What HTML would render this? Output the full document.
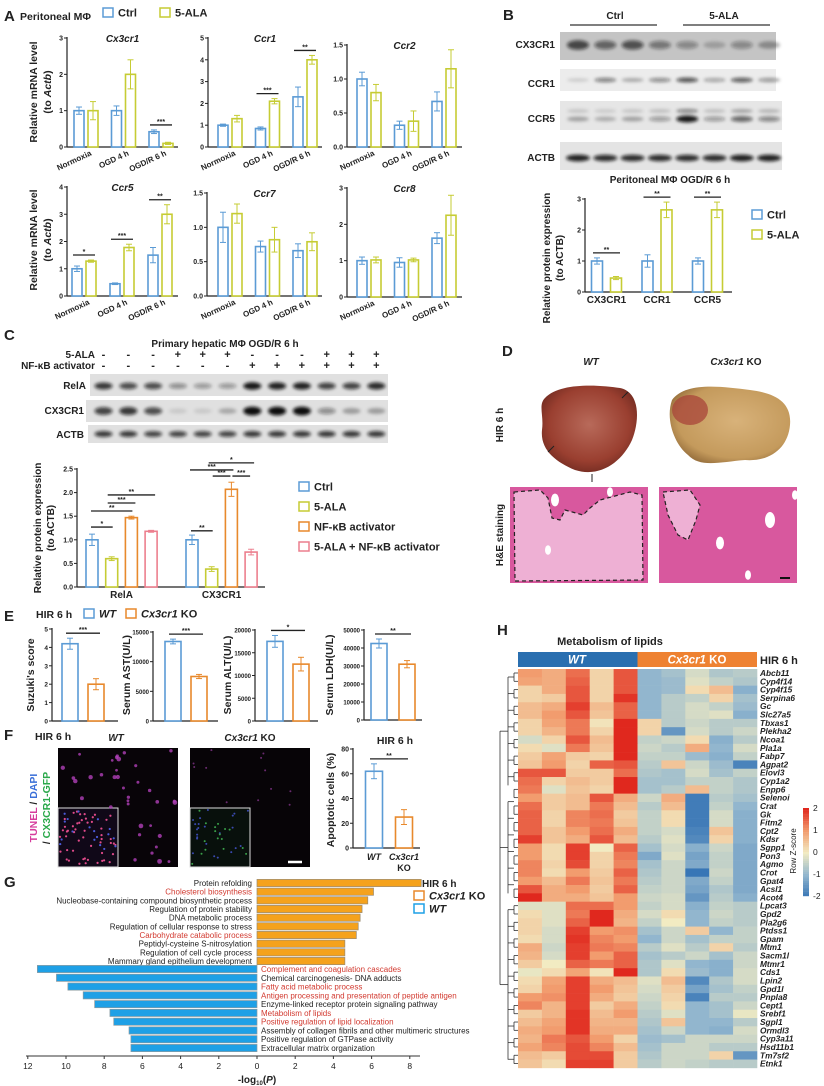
<!DOCTYPE html>
<html><head><meta charset="utf-8"><style>
html,body{margin:0;padding:0;background:#fff;}
svg{display:block;font-family:"Liberation Sans",Arial,sans-serif;}
text{font-weight:bold;fill:#222;}
</style></head><body>
<svg id="fig" width="824" height="1086" viewBox="0 0 824 1086" xmlns="http://www.w3.org/2000/svg">
<defs>
<filter id="blur" x="-50%" y="-100%" width="200%" height="300%"><feGaussianBlur stdDeviation="1.6"/></filter>
<radialGradient id="wtLiver" cx="50%" cy="45%" r="60%"><stop offset="0" stop-color="#b86a5a"/><stop offset="0.7" stop-color="#9a3f30"/><stop offset="1" stop-color="#6e2a20"/></radialGradient>
<radialGradient id="koLiver" cx="55%" cy="45%" r="60%"><stop offset="0" stop-color="#d8b27a"/><stop offset="0.8" stop-color="#c49a5c"/><stop offset="1" stop-color="#9c7440"/></radialGradient>
</defs>
</svg>
<script>
// ---------- DATA ----------
const groupsA = ['Normoxia','OGD 4 h','OGD/R 6 h'];
const cx3cr1Ctrl=[1.0,1.0,0.42], cx3cr1CtrlErr=[0.1,0.13,0.05], cx3cr1Ala=[1.0,2.0,0.1], cx3cr1AlaErr=[0.25,0.4,0.03];
const ccr1Ctrl=[1.0,0.85,2.3], ccr1CtrlErr=[0.05,0.07,0.45], ccr1Ala=[1.3,2.1,4.0], ccr1AlaErr=[0.15,0.12,0.2];
const ccr2Ctrl=[1.0,0.32,0.67], ccr2CtrlErr=[0.1,0.06,0.14], ccr2Ala=[0.8,0.38,1.15], ccr2AlaErr=[0.12,0.15,0.28];
const ccr5Ctrl=[1.0,0.45,1.5], ccr5CtrlErr=[0.1,0.03,0.28], ccr5Ala=[1.28,1.78,3.0], ccr5AlaErr=[0.04,0.12,0.35];
const ccr7Ctrl=[1.0,0.72,0.66], ccr7CtrlErr=[0.22,0.08,0.1], ccr7Ala=[1.2,0.82,0.79], ccr7AlaErr=[0.14,0.18,0.13];
const ccr8Ctrl=[1.0,0.95,1.62], ccr8CtrlErr=[0.1,0.13,0.15], ccr8Ala=[1.02,1.02,2.25], ccr8AlaErr=[0.08,0.05,0.55];
const groupsB=['CX3CR1','CCR1','CCR5'];
const bCtrl=[1,1,1], bCtrlErr=[0.1,0.2,0.1], bAla=[0.45,2.65,2.65], bAlaErr=[0.05,0.25,0.25];
const groupsC=['RelA','CX3CR1'];
const cCtrl=[1.0,1.0], cCtrlErr=[0.12,0.1];
const cAla=[0.6,0.38], cAlaErr=[0.04,0.05];
const cNf=[1.47,2.07], cNfErr=[0.03,0.15];
const cCombo=[1.18,0.74], cComboErr=[0.02,0.06];
const eSuzuki=[4.2,2.0], eSuzukiErr=[0.3,0.3];
const eAST=[13400,7500], eASTErr=[400,350];
const eALT=[17500,12500], eALTErr=[1300,1500];
const eLDH=[42500,31000], eLDHErr=[2500,2000];
const fApop=[62,25], fApopErr=[6,6];
const gKoTerms=['Protein refolding','Cholesterol biosynthesis','Nucleobase-containing compound biosynthetic process','Regulation of protein stability','DNA metabolic process','Regulation of cellular response to stress','Carbohydrate catabolic process','Peptidyl-cysteine S-nitrosylation','Regulation of cell cycle process','Mammary gland epithelium development'];
const gKoVals=[8.6,6.1,5.8,5.5,5.4,5.3,5.2,4.6,4.6,4.6];
const gKoRed=[0,1,0,0,0,0,1,0,0,0];
const gWtTerms=['Complement and coagulation cascades','Chemical carcinogenesis- DNA adducts','Fatty acid metabolic process','Antigen processing and presentation of peptide antigen','Enzyme-linked receptor protein signaling pathway','Metabolism of lipids','Positive regulation of lipid localization','Assembly of collagen fibrils and other multimeric structures','Positive regulation of GTPase activity','Extracellular matrix organization'];
const gWtVals=[11.5,10.5,9.9,9.1,8.5,7.7,7.5,6.7,6.6,6.6];
const gWtRed=[1,0,1,1,0,1,1,0,0,0];
const gTicks=[12,10,8,6,4,2,0,2,4,6,8];
const gTickVals=[-12,-10,-8,-6,-4,-2,0,2,4,6,8];
const hGenes=['Abcb11','Cyp4f14','Cyp4f15','Serpina6','Gc','Slc27a5','Tbxas1','Plekha2','Ncoa1','Pla1a','Fabp7','Agpat2','Elovl3','Cyp1a2','Enpp6','Selenoi','Crat','Gk','Fitm2','Cpt2','Kdsr','Sgpp1','Pon3','Agmo','Crot','Gpat4','Acsl1','Acot4','Lpcat3','Gpd2','Pla2g6','Ptdss1','Gpam','Mtm1','Sacm1l','Mtmr1','Cds1','Lpin2','Gpd1l','Pnpla8','Cept1','Srebf1','Sgpl1','Ormdl3','Cyp3a11','Hsd11b1','Tm7sf2','Etnk1'];
const hZ=[
[1,0.8,1.4,0.3,1.6,-1,-0.8,-0.3,-0.7,-0.6],
[0.9,0.8,1.5,0.3,1.6,-1,-0.9,-0.2,-0.5,-0.7],
[0.3,0.8,1.6,0.3,1.6,-1,-0.9,0.2,0.6,-1.1],
[0.3,0.4,1.6,0.3,1.9,-1,-0.6,-0.5,0.3,-0.8],
[0.6,0.8,1.8,0.6,1.5,-1,-0.6,-0.3,-0.5,-0.9],
[0.6,1.0,1.6,0.5,1.5,-1,-0.6,-0.3,-0.2,-1.1],
[0.3,0.9,1.3,0.1,2.0,0.3,-0.6,-0.4,-0.6,-0.6],
[0.3,0.7,1.3,0.3,2.0,0.3,-1.5,-0.3,-0.6,-0.4],
[-0.3,0.3,1.6,0.6,2.0,-0.5,-0.4,0.2,-1.1,-0.6],
[0.2,-0.2,1.3,0.5,2.0,-0.4,-0.6,0.8,-1,-0.3],
[0.4,0.9,0.4,0.3,2.0,-0.5,-0.5,-0.9,-1.1,-0.5],
[0.5,1.0,0.3,1.5,1.6,-0.6,0.5,-0.4,-0.9,-1.8],
[1.6,1.6,0.4,0.4,1.4,-0.7,-0.8,-0.3,-0.8,-0.5],
[1.4,0.3,0.6,0.4,2.0,-0.8,-0.8,-0.5,-0.5,-0.7],
[1.3,-0.2,0.5,0.3,2.0,-0.8,-0.6,0.6,-0.5,-0.7],
[1.0,0.4,0.6,1.6,0.8,-0.4,0.8,-1.9,-0.6,-0.8],
[1.4,0.4,0.6,1.3,0.6,-0.6,0.6,-1.9,-0.5,-1.0],
[1.5,0.3,1.2,1.4,0.4,-0.5,0.2,-1.9,-0.3,-1.1],
[1.5,0.3,1.2,1.3,0.5,-0.5,0.2,-1.9,-0.3,-1.1],
[1.5,0.5,1.0,1.4,0.8,-0.5,-0.3,-1.8,0.5,-1.1],
[1.8,0.5,0.8,1.6,0.6,-0.6,-0.2,-1.7,0.3,-1.1],
[1.0,0.2,1.8,0,1.5,-0.8,-0.3,-1.1,-0.4,-1.2],
[1.0,0.2,1.8,0.3,1.3,-1.2,-0.2,-1.3,-0.5,-1.2],
[1.2,0.3,1.7,0.3,1.2,-0.8,-0.4,-1.2,-0.5,-1.2],
[1.2,0.2,1.0,0.4,1.5,-0.7,-0.4,-2,-0.4,-1.2],
[1.0,0.6,1.3,0.5,1.3,-0.6,-0.4,-1.2,-0.5,-1.2],
[1.6,0.8,1.0,0.4,1.5,-0.5,-0.4,-1.3,-0.7,-1.2],
[2.0,0.8,0.8,0.5,1.0,-0.4,-0.3,-1.5,-0.6,-1.1],
[-0.2,-0.2,1.4,1.4,1.0,-0.5,-0.3,-1.1,-0.5,-0.6],
[0.2,-0.2,1.3,2.0,0.8,-0.3,0.2,-1.0,-0.4,-0.6],
[0.3,-0.2,1.5,2.0,0.7,-0.5,0,-1.0,-0.5,-0.6],
[0.3,-0.3,1.8,1.0,1.1,-0.8,-0.4,0.4,-1.0,-0.5],
[0.2,-0.3,1.9,1.2,1.0,-1.0,-0.4,-0.8,-0.5,-0.5],
[0.8,-0.4,1.8,1.3,1.2,-0.6,-0.2,-0.6,0.3,-0.6],
[0.7,-0.3,1.8,1.0,1.5,-0.8,-0.6,-0.4,-0.8,-0.4],
[0.4,0,1.5,1.3,1.5,-0.7,-0.2,-1,-1.1,-0.4],
[-0.1,0.2,0.9,0.1,2.0,-0.7,0.2,-0.9,-1.1,-0.3],
[0.2,0.9,1.8,0.8,0.6,-0.2,0.6,-1.7,-0.7,-0.3],
[0.3,1.0,1.8,1.0,0.5,-0.3,0.4,-1.3,-0.8,-0.5],
[1.0,1.1,1.8,0.8,0.4,-0.4,0.3,-1.8,-0.6,-0.6],
[1.2,0.7,1.8,0.4,0.8,-0.5,0.2,-1,-0.8,-0.4],
[0.4,0.7,1.9,0.6,1.0,-0.6,-0.2,-1,-0.8,-0.1],
[0.6,0.9,1.9,0.7,0.7,-0.7,0.5,-1,-1,-0.6],
[0.8,1.0,1.9,0.8,0.8,-0.8,-0.4,-1,-1.1,-0.3],
[0.7,1.3,1.6,1.0,0.3,-0.9,-0.8,-0.4,-0.4,-0.4],
[0.9,1.2,1.7,1.2,0.6,-0.8,-0.4,-0.4,-0.6,-0.6],
[0.6,0.4,1.7,1.7,0.4,-0.7,-0.4,-0.4,0.3,-1.5],
[0.5,0.2,1.8,1.8,0.4,-0.6,-0.4,-0.5,-0.6,-0.6]];
const blotB_CX3CR1=[0.7,0.55,0.65,0.45,0.35,0.2,0.35,0.3];
const blotB_CCR1=[0.15,0.5,0.3,0.45,0.7,0.35,0.65,0.4];
const blotB_CCR5=[0.3,0.25,0.3,0.35,0.95,0.35,0.6,0.45];
const blotB_ACTB=[0.9,0.85,0.85,0.85,0.85,0.85,0.9,0.9];
const blotC_RelA=[0.8,0.7,0.7,0.4,0.35,0.35,0.95,0.9,0.9,0.75,0.75,0.85];
const blotC_CX3CR1=[0.75,0.8,0.7,0.1,0.1,0.25,1,1,1,0.4,0.3,0.3];
const blotC_ACTB=[0.8,0.8,0.75,0.75,0.75,0.75,0.8,0.8,0.8,0.8,0.8,0.8];
const cAlaSigns=['-','-','-','+','+','+','-','-','-','+','+','+'];
const cNfSigns=['-','-','-','-','-','-','+','+','+','+','+','+'];

// ---------- HELPERS ----------
const NS='http://www.w3.org/2000/svg';
const svg=document.getElementById('fig');
const BLUE='#5b9bd5', YEL='#c6cc34', ORG='#e8892c', PINK='#ec7f8e';
function mk(tag,attrs,parent){const e=document.createElementNS(NS,tag);for(const k in attrs)e.setAttribute(k,attrs[k]);(parent||svg).appendChild(e);return e;}
function T(x,y,s,size,name,extra){const t=mk('text',Object.assign({x:x,y:y,'font-size':size},extra||{}));t.textContent=s;


return t;}
function L(x1,y1,x2,y2,color,w,name){const l=mk('line',{x1:x1,y1:y1,x2:x2,y2:y2,stroke:color||'#222','stroke-width':w||1});


return l;}
function R(x,y,w,h,fill,stroke,name,sw){const r=mk('rect',{x:x,y:y,width:w,height:h,fill:fill,stroke:stroke||'none','stroke-width':sw||1});


return r;}
function VT(x,y,s,size,name,extra){return T(x,y,s,size,name,Object.assign({transform:'rotate(-90 '+x+' '+y+')','text-anchor':'middle'},extra||{}));}

function barChart(c){
  const H=c.yBase-c.yTop;
  const y=v=>c.yBase-v/c.vmax*H;
  L(c.x0,c.yTop-1,c.x0,c.yBase,'#222',1.2,c.name+'-y-axis');
  L(c.x0,c.yBase,c.xEnd,c.yBase,'#222',1.2,c.name+'-x-axis');
  c.ticks.forEach((tv,i)=>{L(c.x0-3,y(tv),c.x0,y(tv),'#222',1,c.name+'-tick');
    T(c.x0-4,y(tv)+2.5,c.tickLabels[i],c.tickSize||7,c.name+'-tick-label',{'text-anchor':'end'});});
  const cxs=[];
  c.series.forEach((s,si)=>{s.vals.forEach((v,gi)=>{
    const cx=c.x0+c.off+gi*c.gstep+si*c.sstep; (cxs[gi]=cxs[gi]||[])[si]=cx;
    const b=mk('rect',{x:cx-c.bw/2,y:y(v),width:c.bw,height:c.yBase-y(v),fill:'#fff',stroke:s.color,'stroke-width':1.6});
    
    
    const e=s.errs[gi];
    L(cx,y(v+e),cx,y(Math.max(0,v-e)),s.color,1,c.name+'-error-bar');
    L(cx-3,y(v+e),cx+3,y(v+e),s.color,1,c.name+'-error-cap');
    L(cx-3,y(v-e),cx+3,y(v-e),s.color,1,c.name+'-error-cap');
  });});
  (c.sigs||[]).forEach(sg=>{
    let lv=sg.level;
    if(lv===undefined){lv=0;c.series.forEach(s=>{lv=Math.max(lv,s.vals[sg.g]+s.errs[sg.g]);});}
    const yy=sg.level===undefined?y(lv)-5:y(lv);
    const xa=cxs[sg.g][sg.s1]-(sg.pad||4), xb=(sg.g2!==undefined?cxs[sg.g2][sg.s2]:cxs[sg.g][sg.s2])+(sg.pad||4);
    L(xa,yy,xb,yy,'#222',1.3,c.name+'-significance-line');
    T((xa+xb)/2,yy-1,sg.label,7,c.name+'-significance-stars',{'text-anchor':'middle'});
  });
  if(c.title)T((c.x0+c.xEnd)/2,c.yTop+4,c.title,10,c.name+'-title',{'text-anchor':'middle','font-style':'italic'});
  if(c.cats){c.cats.forEach((cat,gi)=>{const cm=(cxs[gi][0]+cxs[gi][cxs[gi].length-1])/2;
    if(c.rot){const xx=cm+6,yy=c.yBase+8;T(xx,yy,cat,8,c.name+'-x-label',{'text-anchor':'end',transform:'rotate(-25 '+xx+' '+yy+')'});}
    else T(cm,c.yBase+11,cat,c.catSize||9.5,c.name+'-x-label',{'text-anchor':'middle'});});}
  return y;
}
function blotRow(x0,x1,y0,y1,lanes,vals,bg,name,bandY,bw,bh,dbl){
  R(x0,y0,x1-x0,y1-y0,bg,'none',name+'-membrane');
  vals.forEach((v,i)=>{const cx=lanes(i);
    const e=mk('ellipse',{cx:cx,cy:bandY,rx:bw,ry:bh*(0.6+0.5*v),fill:'#111','fill-opacity':v,filter:'url(#blur)'});
    
    
    if(dbl){const e2=mk('ellipse',{cx:cx,cy:bandY-8,rx:bw,ry:bh*0.6,fill:'#111','fill-opacity':v*0.5,filter:'url(#blur)'});
    
    }
  });
}
function legendBox(x,y,color,label,name,italicPart,rest){
  const b=R(x,y,10,9,'#fff',color,name+'-swatch',1.5);
  const t=T(x+15,y+8.5,'',11,name+'-label');
  if(italicPart){const a=mk('tspan',{'font-style':'italic'},t);a.textContent=italicPart;
    
    
    if(rest){const r=mk('tspan',{},t);r.textContent=rest;
    
    }}
  else t.textContent=label;
}

// ---------- PANEL A ----------
T(4,21,'A',15,'panel-label-a');
T(20,20,'Peritoneal MΦ',10.5,'panel-a-subtitle');
legendBox(103,8,BLUE,'Ctrl','legend-ctrl-a');
legendBox(160,8,YEL,'5-ALA','legend-5ala-a');
VT(37,92,'Relative mRNA level',10.5,'a-y-title-1');
(function(){const t=VT(51,92,'',10.5,'a-y-title-1b');t.textContent='(to ';const s=mk('tspan',{'font-style':'italic'},t);s.textContent='Actb';const s2=mk('tspan',{},t);s2.textContent=')';})();
VT(37,240,'Relative mRNA level',10.5,'a-y-title-2');
(function(){const t=VT(51,240,'',10.5,'a-y-title-2b');t.textContent='(to ';const s=mk('tspan',{'font-style':'italic'},t);s.textContent='Actb';const s2=mk('tspan',{},t);s2.textContent=')';})();
const aBase={off:12,gstep:37.5,sstep:14,bw:10,cats:groupsA,rot:true};
barChart(Object.assign({},aBase,{name:'cx3cr1',title:'Cx3cr1',x0:67,xEnd:178,yTop:38,yBase:147,vmax:3,ticks:[0,1,2,3],tickLabels:['0','1','2','3'],
 series:[{vals:cx3cr1Ctrl,errs:cx3cr1CtrlErr,color:BLUE},{vals:cx3cr1Ala,errs:cx3cr1AlaErr,color:YEL}],sigs:[{g:2,s1:0,s2:1,label:'***'}]}));
barChart(Object.assign({},aBase,{name:'ccr1',title:'Ccr1',x0:208,xEnd:322,yTop:38,yBase:147,vmax:5,off:15,ticks:[0,1,2,3,4,5],tickLabels:['0','1','2','3','4','5'],
 series:[{vals:ccr1Ctrl,errs:ccr1CtrlErr,color:BLUE},{vals:ccr1Ala,errs:ccr1AlaErr,color:YEL}],sigs:[{g:1,s1:0,s2:1,label:'***'},{g:2,s1:0,s2:1,label:'**'}]}));
barChart(Object.assign({},aBase,{name:'ccr2',title:'Ccr2',x0:347,xEnd:462,yTop:45,yBase:147,vmax:1.5,off:15,ticks:[0,0.5,1,1.5],tickLabels:['0.0','0.5','1.0','1.5'],
 series:[{vals:ccr2Ctrl,errs:ccr2CtrlErr,color:BLUE},{vals:ccr2Ala,errs:ccr2AlaErr,color:YEL}]}));
barChart(Object.assign({},aBase,{name:'ccr5',title:'Ccr5',x0:67,xEnd:178,yTop:187,yBase:296,vmax:4,off:10,gstep:38,ticks:[0,1,2,3,4],tickLabels:['0','1','2','3','4'],
 series:[{vals:ccr5Ctrl,errs:ccr5CtrlErr,color:BLUE},{vals:ccr5Ala,errs:ccr5AlaErr,color:YEL}],sigs:[{g:0,s1:0,s2:1,label:'*'},{g:1,s1:0,s2:1,label:'***'},{g:2,s1:0,s2:1,label:'**'}]}));
barChart(Object.assign({},aBase,{name:'ccr7',title:'Ccr7',x0:207,xEnd:322,yTop:193,yBase:296,vmax:1.5,off:16,ticks:[0,0.5,1,1.5],tickLabels:['0.0','0.5','1.0','1.5'],
 series:[{vals:ccr7Ctrl,errs:ccr7CtrlErr,color:BLUE},{vals:ccr7Ala,errs:ccr7AlaErr,color:YEL}]}));
barChart(Object.assign({},aBase,{name:'ccr8',title:'Ccr8',x0:347,xEnd:462,yTop:188,yBase:297,vmax:3,off:15,ticks:[0,1,2,3],tickLabels:['0','1','2','3'],
 series:[{vals:ccr8Ctrl,errs:ccr8CtrlErr,color:BLUE},{vals:ccr8Ala,errs:ccr8AlaErr,color:YEL}]}));

// ---------- PANEL B ----------
R(462,0,362,330,'#fff','none','panel-b-background');
T(503,20,'B',15,'panel-label-b');
T(615,19,'Ctrl',10,'b-ctrl-header',{'text-anchor':'middle'});
L(570,25,657,25,'#333',1.2,'b-ctrl-bracket');
T(724,19,'5-ALA',10,'b-5ala-header',{'text-anchor':'middle'});
L(683,25,770,25,'#333',1.2,'b-5ala-bracket');
const lanesB=i=>578+i*27.3;
blotRow(560,776,32,60,lanesB,blotB_CX3CR1,'#c4c4c4','blot-b-cx3cr1',45,11,5);
blotRow(560,776,69,91,lanesB,blotB_CCR1,'#ececec','blot-b-ccr1',80,11,2.5);
blotRow(560,782,101,130,lanesB,blotB_CCR5,'#e6e6e6','blot-b-ccr5',119,11,3.2,true);
blotRow(560,782,142,170,lanesB,blotB_ACTB,'#e4e4e4','blot-b-actb',158,12,3.2);
T(555,48,'CX3CR1',10,'b-label-cx3cr1',{'text-anchor':'end'});
T(555,87,'CCR1',10,'b-label-ccr1',{'text-anchor':'end'});
T(555,122,'CCR5',10,'b-label-ccr5',{'text-anchor':'end'});
T(555,161,'ACTB',10,'b-label-actb',{'text-anchor':'end'});
T(670,183,'Peritoneal MΦ  OGD/R 6 h',10,'b-chart-title',{'text-anchor':'middle'});
VT(550,258,'Relative protein expression',10,'b-y-title');
VT(563,258,'(to ACTB)',10,'b-y-title-2');
barChart({name:'b-chart',x0:585,xEnd:732,yTop:199,yBase:292,vmax:3,ticks:[0,1,2,3],tickLabels:['0','1','2','3'],off:12,gstep:50.5,sstep:19,bw:11,cats:groupsB,catSize:10,
 series:[{vals:bCtrl,errs:bCtrlErr,color:BLUE},{vals:bAla,errs:bAlaErr,color:YEL}],sigs:[{g:0,s1:0,s2:1,label:'**'},{g:1,s1:0,s2:1,label:'**'},{g:2,s1:0,s2:1,label:'**'}]});
legendBox(752,210,BLUE,'Ctrl','legend-ctrl-b');
legendBox(752,230,YEL,'5-ALA','legend-5ala-b');

// ---------- PANEL C ----------
T(4,340,'C',15,'panel-label-c');
T(225,347,'Primary hepatic MΦ  OGD/R 6 h',10,'c-title',{'text-anchor':'middle'});
T(95,358,'5-ALA',10,'c-row-5ala',{'text-anchor':'end'});
T(95,369,'NF-κB activator',10,'c-row-nfkb',{'text-anchor':'end'});
const lanesC=i=>103.5+i*24.8;
cAlaSigns.forEach((s,i)=>T(lanesC(i),358,s,11,'c-sign-5ala',{'text-anchor':'middle'}));
cNfSigns.forEach((s,i)=>T(lanesC(i),369,s,11,'c-sign-nfkb',{'text-anchor':'middle'}));
blotRow(90,388,374,396,lanesC,blotC_RelA,'#e0e0e0','blot-c-rela',386,9,3.5);
blotRow(86,388,400,422,lanesC,blotC_CX3CR1,'#e0e0e0','blot-c-cx3cr1',411,9,4);
blotRow(88,388,425,443,lanesC,blotC_ACTB,'#e0e0e0','blot-c-actb',434,9,3);
T(86,389,'RelA',10,'c-label-rela',{'text-anchor':'end'});
T(84,414,'CX3CR1',10,'c-label-cx3cr1',{'text-anchor':'end'});
T(84,438,'ACTB',10,'c-label-actb',{'text-anchor':'end'});
VT(41,528,'Relative protein expression',10,'c-y-title');
VT(54,528,'(to ACTB)',10,'c-y-title-2');
barChart({name:'c-chart',x0:77,xEnd:265,yTop:469,yBase:587,vmax:2.5,ticks:[0,0.5,1,1.5,2,2.5],tickLabels:['0.0','0.5','1.0','1.5','2.0','2.5'],off:15,gstep:100,sstep:19.7,bw:12,cats:groupsC,catSize:10,
 series:[{vals:cCtrl,errs:cCtrlErr,color:BLUE},{vals:cAla,errs:cAlaErr,color:YEL},{vals:cNf,errs:cNfErr,color:ORG},{vals:cCombo,errs:cComboErr,color:PINK}],
 sigs:[{g:0,s1:0,s2:1,label:'*',level:1.27,pad:1},{g:0,s1:0,s2:2,label:'**',level:1.61,pad:1},{g:0,s1:1,s2:2,label:'***',level:1.78,pad:0},{g:0,s1:1,s2:3,label:'**',level:1.95,pad:0},
       {g:1,s1:0,s2:1,label:'**',level:1.19,pad:1},{g:1,s1:1,s2:2,label:'***',level:2.35,pad:-1},{g:1,s1:2,s2:3,label:'***',level:2.35,pad:-1},{g:1,s1:0,s2:2,label:'***',level:2.48,pad:2},{g:1,s1:1,s2:3,label:'*',level:2.63,pad:3}]});
legendBox(299,482,BLUE,'Ctrl','legend-c-ctrl');
legendBox(299,502,YEL,'5-ALA','legend-c-5ala');
legendBox(299,522,ORG,'NF-κB activator','legend-c-nfkb');
legendBox(299,542,PINK,'5-ALA + NF-κB activator','legend-c-combo');

// ---------- PANEL D ----------
T(502,356,'D',15,'panel-label-d');
T(591,365,'WT',10,'d-wt-title',{'text-anchor':'middle','font-style':'italic'});
(function(){const t=T(736,365,'',10,'d-ko-title',{'text-anchor':'middle'});const a=mk('tspan',{'font-style':'italic'},t);a.textContent='Cx3cr1';const b=mk('tspan',{},t);b.textContent=' KO';})();
(function(){
 const w=mk('path',{d:'M545 398 C560 382 600 385 620 388 C640 392 640 420 632 440 C622 462 600 478 575 470 C556 462 540 450 542 430 C544 415 538 405 545 398Z',fill:'url(#wtLiver)'});
 
 
 const k=mk('path',{d:'M672 400 C685 382 720 386 750 390 C775 393 792 402 790 425 C788 448 770 462 745 460 C720 462 700 468 688 455 C675 445 665 420 672 400Z',fill:'url(#koLiver)'});
 
 
 const rp=mk('ellipse',{cx:690,cy:410,rx:18,ry:15,fill:'#a8443a','fill-opacity':0.75});
 
 
 [[548,452,554,446],[628,392,622,398],[592,482,592,474]].forEach(a=>{L(a[0],a[1],a[2],a[3],'#222',1,'d-arrow');});
 R(510,487,138,96,'#d8589e','none','he-wt-image');
 const p1=mk('path',{d:'M514 492 L540 490 L548 498 L552 518 L560 520 L565 510 L583 515 L590 508 L600 500 L630 492 L642 495 L643 580 L515 581 Z',fill:'#eeb0d4',stroke:'#222','stroke-width':1.2,'stroke-dasharray':'4 3'});
 
 
 R(659,487,138,96,'#d8589e','none','he-ko-image');
 const p2=mk('path',{d:'M663 492 L690 490 L700 505 L696 520 L688 540 L678 535 L668 515 Z',fill:'#eeb0d4',stroke:'#222','stroke-width':1.2,'stroke-dasharray':'4 3'});
 
 
 [[555,500,4],[610,492,3],[548,550,3],[720,543,4],[770,520,5],[748,575,3],[795,495,3]].forEach(v=>{const c=mk('ellipse',{cx:v[0],cy:v[1],rx:v[2],ry:v[2]*1.6,fill:'#fff'});});
 L(780,578,790,578,'#111',2,'he-scale-bar');
})();
VT(503,425,'HIR 6 h',10,'d-row-hir');
VT(503,535,'H&E staining',10,'d-row-he');

// ---------- PANEL E ----------
T(4,621,'E',15,'panel-label-e');
T(36,618,'HIR 6 h',10.5,'e-hir-label');
legendBox(84,609,BLUE,'','legend-e-wt','WT');
legendBox(126,609,ORG,'','legend-e-ko','Cx3cr1',' KO');
VT(34,675,"Suzuki's score",10.5,'e-y-suzuki');
VT(130,675,'Serum AST(U/L)',10.5,'e-y-ast');
VT(231,675,'Serum ALT(U/L)',10.5,'e-y-alt');
VT(333,675,'Serum LDH(U/L)',10.5,'e-y-ldh');
barChart({name:'e-suzuki',x0:52,xEnd:118,yTop:629,yBase:721,vmax:5,ticks:[0,1,2,3,4,5],tickLabels:['0','1','2','3','4','5'],off:18,gstep:0,sstep:26,bw:16,tickSize:6.5,
 series:[{vals:[eSuzuki[0]],errs:[eSuzukiErr[0]],color:BLUE},{vals:[eSuzuki[1]],errs:[eSuzukiErr[1]],color:ORG}],sigs:[{g:0,s1:0,s2:1,label:'***'}]});
barChart({name:'e-ast',x0:153,xEnd:218,yTop:632,yBase:721,vmax:15000,ticks:[0,5000,10000,15000],tickLabels:['0','5000','10000','15000'],off:20,gstep:0,sstep:26,bw:16,tickSize:6,
 series:[{vals:[eAST[0]],errs:[eASTErr[0]],color:BLUE},{vals:[eAST[1]],errs:[eASTErr[1]],color:ORG}],sigs:[{g:0,s1:0,s2:1,label:'***'}]});
barChart({name:'e-alt',x0:255,xEnd:318,yTop:630,yBase:721,vmax:20000,ticks:[0,5000,10000,15000,20000],tickLabels:['0','5000','10000','15000','20000'],off:20,gstep:0,sstep:26,bw:16,tickSize:6,
 series:[{vals:[eALT[0]],errs:[eALTErr[0]],color:BLUE},{vals:[eALT[1]],errs:[eALTErr[1]],color:ORG}],sigs:[{g:0,s1:0,s2:1,label:'*'}]});
barChart({name:'e-ldh',x0:364,xEnd:422,yTop:630,yBase:720,vmax:50000,ticks:[0,10000,20000,30000,40000,50000],tickLabels:['0','10000','20000','30000','40000','50000'],off:15,gstep:0,sstep:28,bw:16,tickSize:6,
 series:[{vals:[eLDH[0]],errs:[eLDHErr[0]],color:BLUE},{vals:[eLDH[1]],errs:[eLDHErr[1]],color:ORG}],sigs:[{g:0,s1:0,s2:1,label:'**'}]});

// ---------- PANEL F ----------
T(4,740,'F',15,'panel-label-f');
T(35,740,'HIR 6 h',10.5,'f-hir-label');
T(116,741,'WT',10,'f-wt-title',{'text-anchor':'middle','font-style':'italic'});
(function(){const t=T(250,741,'',10,'f-ko-title',{'text-anchor':'middle'});const a=mk('tspan',{'font-style':'italic'},t);a.textContent='Cx3cr1';const b=mk('tspan',{},t);b.textContent=' KO';})();
(function(){const t=VT(37,808,'',10.5,'f-y-stain-1');
 const a=mk('tspan',{style:'fill:#d63c9c'},t);a.textContent='TUNEL';
 const b=mk('tspan',{},t);b.textContent=' / ';
 const c=mk('tspan',{style:'fill:#3a6fd8'},t);c.textContent='DAPI';
 const t2=VT(50,808,'',10.5,'f-y-stain-2');
 const d=mk('tspan',{},t2);d.textContent='/ ';
 const e=mk('tspan',{style:'fill:#2aa84a'},t2);e.textContent='CX3CR1-GFP';})();
R(58,748,120,119,'#080408','none','f-wt-image');
R(190,748,120,119,'#070407','none','f-ko-image');
R(58,808,60,59,'#100818','#ddd','f-wt-inset',1);
R(190,808,60,59,'#08100c','#ddd','f-ko-inset',1);
(function(){let s=7;const rnd=()=>{s=(s*9301+49297)%233280;return s/233280;};
 for(let i=0;i<45;i++){const x=60+rnd()*116,y=750+rnd()*115;if(x<118&&y>808)continue;const c=mk('circle',{cx:x,cy:y,r:1.3+rnd()*1.2,fill:'#b040b8','fill-opacity':0.8});}
 for(let i=0;i<70;i++){const c=mk('circle',{cx:60+rnd()*56,cy:810+rnd()*55,r:1.1,fill:rnd()>0.3?'#e04a8a':'#4a5ad8'});}
 for(let i=0;i<12;i++){const c=mk('circle',{cx:192+rnd()*116,cy:750+rnd()*55,r:1,fill:'#6a2a70'});}
 for(let i=0;i<40;i++){const c=mk('circle',{cx:192+rnd()*56,cy:810+rnd()*55,r:1,fill:rnd()>0.5?'#3aa04a':'#3a4ab0'});}
})();
L(288,862,302,862,'#fff',2.5,'f-scale-bar');
T(395,744,'HIR 6 h',10.5,'f-chart-title',{'text-anchor':'middle'});
VT(334,800,'Apoptotic cells (%)',10.5,'f-y-title');
barChart({name:'f-chart',x0:353,xEnd:420,yTop:749,yBase:848,vmax:80,ticks:[0,20,40,60,80],tickLabels:['0','20','40','60','80'],off:21,gstep:0,sstep:30,bw:17,tickSize:7,
 series:[{vals:[fApop[0]],errs:[fApopErr[0]],color:BLUE},{vals:[fApop[1]],errs:[fApopErr[1]],color:ORG}],sigs:[{g:0,s1:0,s2:1,label:'**'}]});
T(374,860,'WT',9,'f-x-wt',{'text-anchor':'middle','font-style':'italic'});
T(404,860,'Cx3cr1',9,'f-x-ko',{'text-anchor':'middle','font-style':'italic'});
T(404,871,'KO',9,'f-x-ko-2',{'text-anchor':'middle'});

// ---------- PANEL G ----------
T(4,887,'G',15,'panel-label-g');
const gx=v=>257+v*19.1;
const gyKo=i=>883+i*8.67, gyWt=i=>969+i*8.78;
gKoVals.forEach((v,i)=>{const b=R(gx(0),gyKo(i)-3.6,gx(v)-gx(0),7.2,'#f5a21c','#9a8a70','g-bar-ko',0.7);
 T(252,gyKo(i)+3,gKoTerms[i],8,'g-term-ko',{'text-anchor':'end',style:'font-weight:normal;fill:'+(gKoRed[i]?'#d23a30':'#222')});});
gWtVals.forEach((v,i)=>{const b=R(gx(-v),gyWt(i)-3.6,gx(0)-gx(-v),7.2,'#1ea0e6','#8a9aa0','g-bar-wt',0.7);
 T(261,gyWt(i)+3,gWtTerms[i],8,'g-term-wt',{style:'font-weight:normal;fill:'+(gWtRed[i]?'#d23a30':'#222')});});
L(26,1056,420,1056,'#333',1,'g-x-axis');
gTickVals.forEach((v,i)=>{L(gx(v),1056,gx(v),1059,'#333',1,'g-tick');T(gx(v),1069,String(gTicks[i]),8.5,'g-tick-label',{'text-anchor':'middle',style:'font-weight:normal'});});
(function(){const t=T(257,1083,'-log',10,'g-x-title',{'text-anchor':'middle'});const a=mk('tspan',{'font-size':6,dy:2},t);a.textContent='10';const b=mk('tspan',{dy:-2},t);b.textContent='(';const c=mk('tspan',{'font-style':'italic'},t);c.textContent='P';const d=mk('tspan',{},t);d.textContent=')';})();
T(422,887,'HIR 6 h',10,'g-legend-title');
legendBox(414,891,ORG,'','g-legend-ko','Cx3cr1',' KO');
legendBox(414,904,'#1ea0e6','','g-legend-wt','WT');

// ---------- PANEL H ----------
T(497,635,'H',15,'panel-label-h');
T(610,645,'Metabolism of lipids',11,'h-title',{'text-anchor':'middle'});
R(518,652,119.5,15,'#2a6fb0','none','h-wt-header');
R(637.5,652,119.5,15,'#ee8232','none','h-ko-header');
T(577,663.5,'WT',11.5,'h-wt-header-text',{'text-anchor':'middle','font-style':'italic',style:'fill:#fff'});
(function(){const t=T(697,663.5,'',11.5,'h-ko-header-text',{'text-anchor':'middle',style:'fill:#fff'});const a=mk('tspan',{'font-style':'italic'},t);a.textContent='Cx3cr1';const b=mk('tspan',{},t);b.textContent=' KO';})();
T(760,664,'HIR 6 h',11,'h-hir-label');
const stops=[[-2,[56,118,182]],[-1,[146,182,206]],[0,[242,235,194]],[1,[242,156,110]],[2,[224,40,30]]];
function zcol(z){z=Math.max(-2,Math.min(2,z));for(let i=0;i<4;i++){const a=stops[i],b=stops[i+1];if(z<=b[0]){const t=(z-a[0])/(b[0]-a[0]);const c=a[1].map((v,k)=>Math.round(v+(b[1][k]-v)*t));return 'rgb('+c.join(',')+')';}}return 'rgb(224,40,30)';}
const hx=c=>518+c*23.9, hy=r=>669+r*8.31;
hZ.forEach((row,r)=>{row.forEach((z,c)=>{const cell=mk('rect',{x:hx(c),y:hy(r),width:24.2,height:8.6,fill:zcol(z)});
 
 });
 T(760,hy(r)+7,hGenes[r],8.3,'gene-label',{'font-style':'italic'});});
// dendrogram
(function(){
 for(let r=0;r<48;r+=2){L(514,hy(r)+4,514,hy(r+1)+4,'#333',0.8,'dendrogram-branch');L(514,hy(r)+4,518,hy(r)+4,'#333',0.8,'dendrogram-branch');L(514,hy(r+1)+4,518,hy(r+1)+4,'#333',0.8,'dendrogram-branch');}
 const cl=[[0,14],[15,27],[28,47]];const mids=[];
 cl.forEach(c=>{const y1=hy(c[0])+8,y2=hy(c[1])+0;L(508,y1,508,y2,'#333',0.8,'dendrogram-branch');
  for(let r=c[0];r<c[1];r+=2)L(508,hy(r)+8,514,hy(r)+8,'#333',0.8,'dendrogram-branch');mids.push((y1+y2)/2);});
 L(500,mids[0],500,mids[2],'#333',0.8,'dendrogram-root');mids.forEach(m=>L(500,m,508,m,'#333',0.8,'dendrogram-branch'));
})();
// color scale
(function(){for(let i=0;i<40;i++){const z=2-i*0.1;const c=mk('rect',{x:803,y:808+i*2.2,width:6,height:2.4,fill:zcol(z)});}
 [2,1,0,-1,-2].forEach(v=>{const yy=808+(2-v)*22;T(813,yy+3,String(v),8.5,'colorbar-tick',{style:'font-weight:normal'});});
 VT(796,851,'Row Z-score',8,'colorbar-title',{style:'font-weight:normal'});})();
</script>
</body></html>
